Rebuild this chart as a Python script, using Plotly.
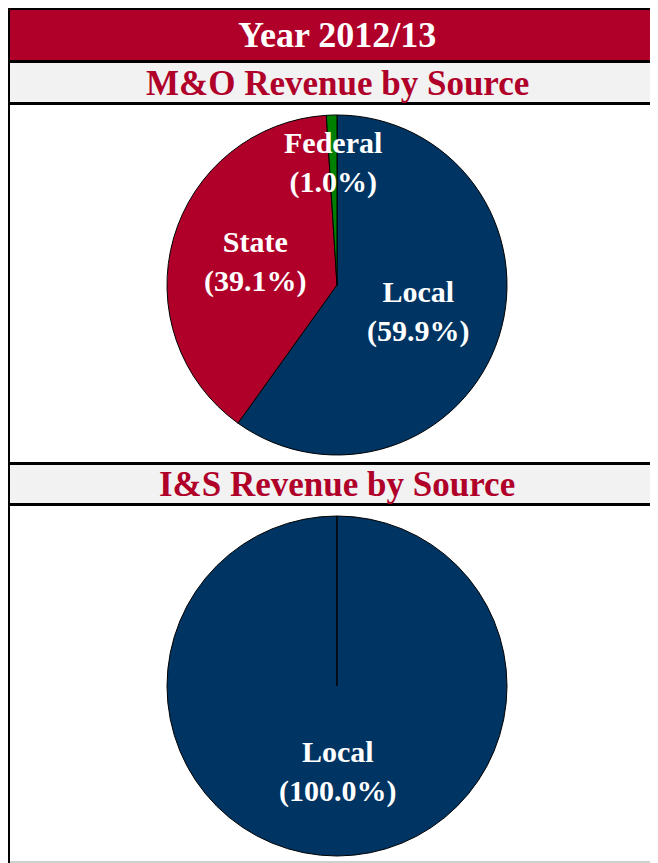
"""Revenue-by-source pies for one fiscal year, drawn as a framed report panel."""

import math

import plotly.graph_objects as go

YEAR_TITLE = "Year 2012/13"
MO_TITLE = "M&O Revenue by Source"
IS_TITLE = "I&S Revenue by Source"

MO_SOURCES = ["Local", "State", "Federal"]
MO_SHARES = [59.9, 39.1, 1.0]

IS_SOURCES = ["Local"]
IS_SHARES = [100.0]

COLORS = {"Local": "#003462", "State": "#B0002A", "Federal": "#008000"}
RED = "#B0002A"
BAND = "#F2F2F2"
FONT = "Liberation Serif, Times New Roman, serif"

# page geometry in px; the html body adds an 8px margin round the figure
OFF = 8
W, H = 650, 855


def fx(px):
    return (px - OFF) / W


def fy(py):
    return 1 - (py - OFF) / H


def box(x0, y0, x1, y1, color):
    return dict(type="rect", xref="paper", yref="paper",
                x0=fx(x0), x1=fx(x1), y0=fy(y1), y1=fy(y0),
                fillcolor=color, line=dict(width=0), layer="below")


def pie_labels(sources, shares, cx, cy, r, radius_frac):
    """Place one label per slice at its mid angle (clockwise from 12 o'clock)."""
    notes = []
    total = sum(shares)
    start = 0.0
    for name, share in zip(sources, shares):
        mid = (start + share / 2) / total * 2 * math.pi
        start += share
        frac = radius_frac.get(name, 0.5)
        x = cx + frac * r * math.sin(mid)
        y = cy - frac * r * math.cos(mid)
        notes.append(dict(
            x=fx(x), y=fy(y), xref="paper", yref="paper", showarrow=False,
            text=f"<b>{name}<br>({share:.1f}%)</b>",
            font=dict(family=FONT, size=30, color="white"),
            xanchor="center", yanchor="middle",
        ))
    return notes


# pie geometry (px)
CX = 337
R = 170
MO_CY = 285
IS_CY = 686

fig = go.Figure()

for sources, shares, cy in [(MO_SOURCES, MO_SHARES, MO_CY), (IS_SOURCES, IS_SHARES, IS_CY)]:
    fig.add_trace(go.Pie(
        labels=sources,
        values=shares,
        sort=False,
        direction="clockwise",
        rotation=0,
        textinfo="none",
        hoverinfo="label+percent",
        marker=dict(colors=[COLORS[s] for s in sources], line=dict(color="black", width=1)),
        domain=dict(x=[fx(CX - R), fx(CX + R)], y=[fy(cy + R), fy(cy - R)]),
        showlegend=False,
    ))

shapes = [
    # outer faint edge
    box(6, 6, 700, 7, "#C8C8C8"),
    box(6, 6, 7, 870, "#C8C8C8"),
    # header and section bands
    box(10, 10, 700, 60, RED),
    box(10, 63, 700, 102, BAND),
    box(10, 465, 700, 503, BAND),
    # black frame rules
    box(7, 7, 700, 10, "black"),
    box(7, 60, 700, 63, "black"),
    box(7, 102, 700, 105, "black"),
    box(7, 462, 700, 465, "black"),
    box(7, 503, 700, 506, "black"),
    box(7, 7, 10, 870, "black"),
    box(10, 861, 700, 863, "#D0D0D0"),
    # slice edge of the single full slice
    dict(type="line", xref="paper", yref="paper",
         x0=fx(CX), x1=fx(CX), y0=fy(IS_CY), y1=fy(IS_CY - R),
         line=dict(color="black", width=1.5)),
]

annotations = [
    dict(x=fx(CX), y=fy(35), xref="paper", yref="paper", showarrow=False,
         text=f"<b>{YEAR_TITLE}</b>", font=dict(family=FONT, size=36, color="white"),
         xanchor="center", yanchor="middle"),
    dict(x=fx(CX), y=fy(83), xref="paper", yref="paper", showarrow=False,
         text=f"<b>{MO_TITLE}</b>", font=dict(family=FONT, size=35, color=RED),
         xanchor="center", yanchor="middle"),
    dict(x=fx(CX), y=fy(484), xref="paper", yref="paper", showarrow=False,
         text=f"<b>{IS_TITLE}</b>", font=dict(family=FONT, size=35, color=RED),
         xanchor="center", yanchor="middle"),
]
annotations += pie_labels(MO_SOURCES, MO_SHARES, CX, MO_CY, R, {"Federal": 0.72})
annotations += pie_labels(IS_SOURCES, IS_SHARES, CX, IS_CY, R, {})

fig.update_layout(
    width=W,
    height=H,
    margin=dict(l=0, r=0, t=0, b=0),
    paper_bgcolor="white",
    plot_bgcolor="white",
    font=dict(family=FONT),
    shapes=shapes,
    annotations=annotations,
)

fig.write_html("out.html")
